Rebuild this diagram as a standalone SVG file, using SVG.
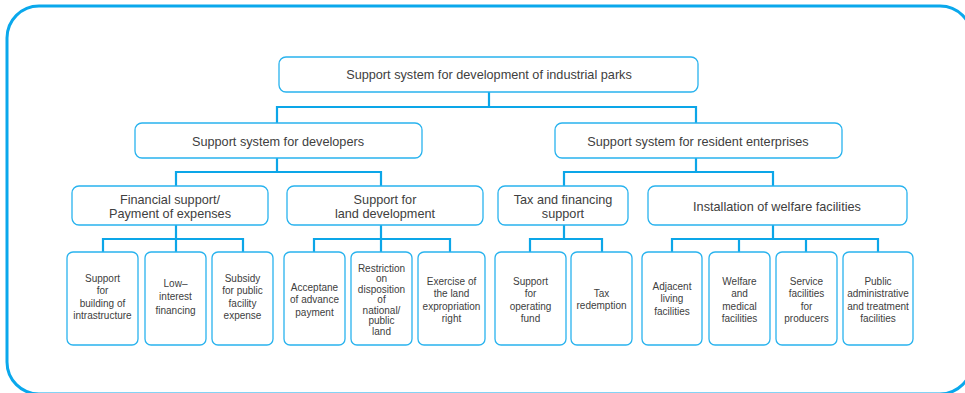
<svg xmlns="http://www.w3.org/2000/svg" width="965" height="393" viewBox="0 0 965 393">
<style>
.frame{fill:none;stroke:#0aa8ec;stroke-width:3}
.box{fill:#fff;stroke:#29b3ee;stroke-width:1.3}
.con{fill:none;stroke:#0ca6e8;stroke-width:2.2}
text{font-family:"Liberation Sans",Arial,sans-serif;fill:#404040;text-anchor:middle}
.t1{font-size:12.7px}
.t3{font-size:10px}
</style>
<rect class="frame" x="7" y="6" width="965" height="388" rx="32"/>
<g id="connectors">
<path class="con" d="M489 92V107M277 123V107H696V123"/>
<path class="con" d="M277 158V172M176 186V172H381V186"/>
<path class="con" d="M696 158V172M564 186V172H773V186"/>
<path class="con" d="M176 225V252M103 252V239H243V252"/>
<path class="con" d="M381 225V252M314 252V239H450V252"/>
<path class="con" d="M564 225V239M530 252V239H602V252"/>
<path class="con" d="M773 225V239M672 252V239H878V252M739 239V252M806 239V252"/>
</g>
<g id="n-root"><rect class="box" x="279" y="57" width="419" height="35" rx="7"/><text class="t1" x="489" y="79">Support system for development of industrial parks</text></g>
<g id="n-dev"><rect class="box" x="135" y="123" width="287" height="35" rx="7"/><text class="t1" x="278" y="146">Support system for developers</text></g>
<g id="n-res"><rect class="box" x="555" y="123" width="287" height="35" rx="7"/><text class="t1" x="698" y="146">Support system for resident enterprises</text></g>
<g id="n-fin"><rect class="box" x="72" y="186" width="196" height="39" rx="7"/><text class="t1" x="170" y="203.5">Financial support/</text><text class="t1" x="170" y="217.5">Payment of expenses</text></g>
<g id="n-land"><rect class="box" x="287" y="186" width="196" height="39" rx="7"/><text class="t1" x="385" y="203.5">Support for</text><text class="t1" x="385" y="217.5">land development</text></g>
<g id="n-tax"><rect class="box" x="498" y="186" width="130" height="39" rx="7"/><text class="t1" x="563" y="203.5">Tax and financing</text><text class="t1" x="563" y="217.5">support</text></g>
<g id="n-welf"><rect class="box" x="648" y="186" width="259" height="39" rx="7"/><text class="t1" x="777" y="211">Installation of welfare facilities</text></g>
<g id="n-b1"><rect class="box" x="67" y="252" width="71" height="93" rx="6"/><text class="t3" x="102.5" y="281.5">Support</text><text class="t3" x="102.5" y="294">for</text><text class="t3" x="102.5" y="306.5">building of</text><text class="t3" x="102.5" y="319">intrastructure</text></g>
<g id="n-b2"><rect class="box" x="145" y="252" width="61" height="93" rx="6"/><text class="t3" x="175.5" y="286.5">Low–</text><text class="t3" x="175.5" y="300">interest</text><text class="t3" x="175.5" y="313.5">financing</text></g>
<g id="n-b3"><rect class="box" x="212" y="252" width="61" height="93" rx="6"/><text class="t3" x="242.5" y="281.5">Subsidy</text><text class="t3" x="242.5" y="294">for public</text><text class="t3" x="242.5" y="306.5">facility</text><text class="t3" x="242.5" y="319">expense</text></g>
<g id="n-b4"><rect class="box" x="284" y="252" width="61" height="93" rx="6"/><text class="t3" x="314.5" y="290.5">Acceptane</text><text class="t3" x="314.5" y="303">of advance</text><text class="t3" x="314.5" y="315.5">payment</text></g>
<g id="n-b5"><rect class="box" x="351" y="252" width="61" height="93" rx="6"/><text class="t3" x="381.5" y="271.5">Restriction</text><text class="t3" x="381.5" y="282">on</text><text class="t3" x="381.5" y="292.5">disposition</text><text class="t3" x="381.5" y="303">of</text><text class="t3" x="381.5" y="313.5">national/</text><text class="t3" x="381.5" y="324">public</text><text class="t3" x="381.5" y="334.5">land</text></g>
<g id="n-b6"><rect class="box" x="418" y="252" width="67" height="93" rx="6"/><text class="t3" x="451.5" y="284.5">Exercise of</text><text class="t3" x="451.5" y="297">the land</text><text class="t3" x="451.5" y="309.5">expropriation</text><text class="t3" x="451.5" y="322">right</text></g>
<g id="n-b7"><rect class="box" x="495" y="252" width="71" height="93" rx="6"/><text class="t3" x="530.5" y="284.5">Support</text><text class="t3" x="530.5" y="297">for</text><text class="t3" x="530.5" y="309.5">operating</text><text class="t3" x="530.5" y="322">fund</text></g>
<g id="n-b8"><rect class="box" x="571" y="252" width="61" height="93" rx="6"/><text class="t3" x="601.5" y="296.5">Tax</text><text class="t3" x="601.5" y="309">redemption</text></g>
<g id="n-b9"><rect class="box" x="642" y="252" width="60" height="93" rx="6"/><text class="t3" x="672" y="289.5">Adjacent</text><text class="t3" x="672" y="302">living</text><text class="t3" x="672" y="314.5">facilities</text></g>
<g id="n-b10"><rect class="box" x="709" y="252" width="61" height="93" rx="6"/><text class="t3" x="739.5" y="284.5">Welfare</text><text class="t3" x="739.5" y="297">and</text><text class="t3" x="739.5" y="309.5">medical</text><text class="t3" x="739.5" y="322">facilities</text></g>
<g id="n-b11"><rect class="box" x="776" y="252" width="61" height="93" rx="6"/><text class="t3" x="806.5" y="284.5">Service</text><text class="t3" x="806.5" y="297">facilities</text><text class="t3" x="806.5" y="309.5">for</text><text class="t3" x="806.5" y="322">producers</text></g>
<g id="n-b12"><rect class="box" x="843" y="252" width="70" height="93" rx="6"/><text class="t3" x="878" y="284.5">Public</text><text class="t3" x="878" y="297">administrative</text><text class="t3" x="878" y="309.5">and treatment</text><text class="t3" x="878" y="322">facilities</text></g>
</svg>
